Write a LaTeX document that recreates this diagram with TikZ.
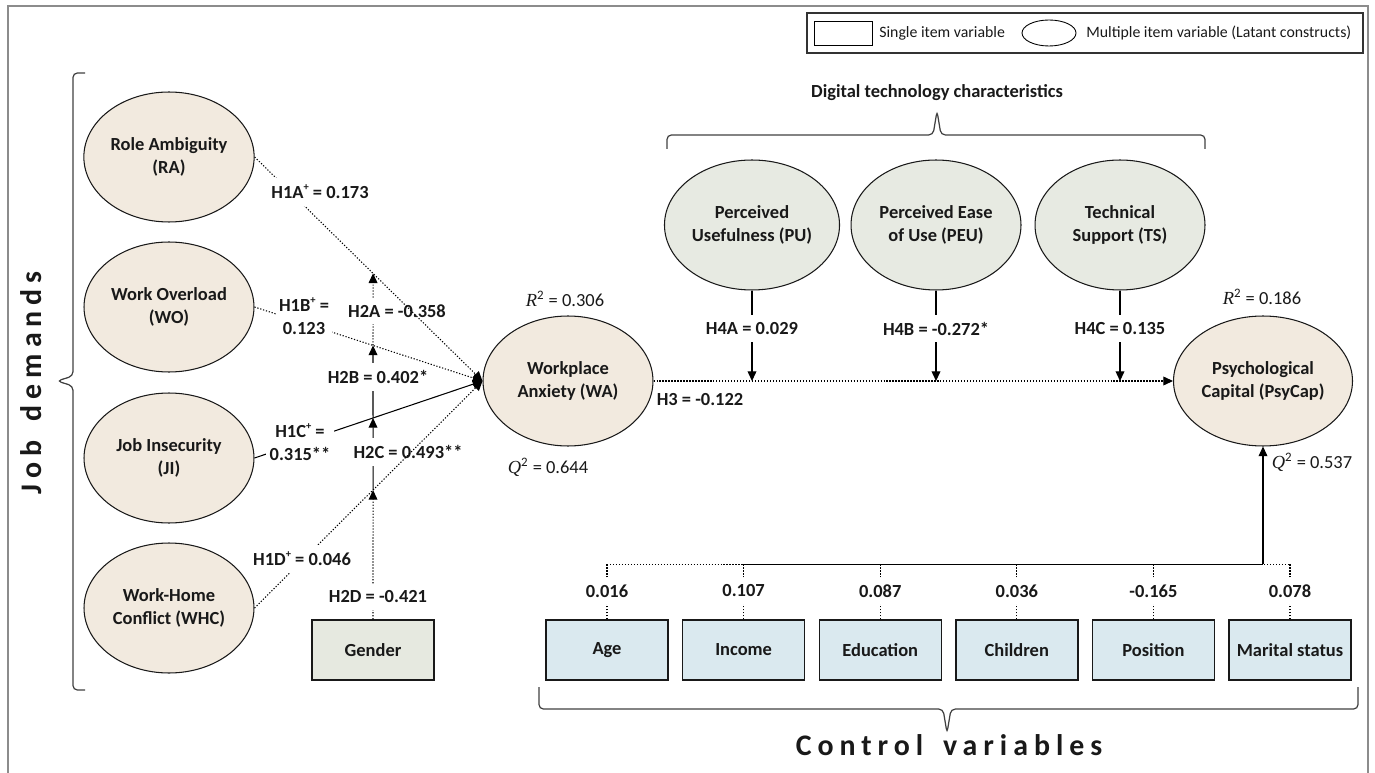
\documentclass[tikz,border=0pt]{standalone}
\usepackage{fontspec}
\setmainfont{Carlito}
\newfontfamily\serifR{Liberation Serif}
\newfontfamily\spacedfont[LetterSpace=20]{Carlito}
\usetikzlibrary{shapes.geometric,arrows.meta}
\definecolor{beige}{HTML}{F2EADF}
\definecolor{sage}{HTML}{E7EAE2}
\definecolor{ctrlblue}{HTML}{DAE9EF}
\definecolor{gendergray}{HTML}{E6E9E0}
\newcommand{\labfont}{\fontsize{10.5}{13}\selectfont\bfseries}
\newcommand{\legfont}{\fontsize{9}{11}\selectfont}
\newcommand{\statfont}{\fontsize{10.5}{13}\selectfont}
\newcommand{\bigspaced}{\spacedfont\bfseries\fontsize{17}{20}\selectfont}
\newcommand{\Rsq}{{\serifR\itshape R}\textsuperscript{2}}
\newcommand{\Qsq}{{\serifR\itshape Q}\textsuperscript{2}}
\newcommand{\plus}{\raisebox{0.9ex}{\fontsize{6}{6}\selectfont+}}
\begin{document}
\begin{tikzpicture}[x=0.02cm, y=-0.02cm, every node/.style={font=\labfont, text=black!90},
  latent/.style={ellipse, draw=black!90, line width=0.6pt, minimum width=3.4cm, minimum height=2.6cm, align=center, inner sep=1pt},
  demand/.style={latent, fill=beige},
  tech/.style={latent, fill=sage},
  single/.style={rectangle, draw=black!90, line width=0.8pt, minimum width=2.44cm, minimum height=1.2cm},
  coef/.style={fill=white, inner xsep=2pt, inner ysep=4pt, align=center},
  dots/.style={line width=0.6pt, dash pattern=on 0.7pt off 1pt},
  tip/.style={-{Triangle[length=5.5pt,width=5pt]}},
  brace/.style={draw=black!75, line width=0.7pt, rounded corners=2.5pt}]
\useasboundingbox (0,0) rectangle (1375,773);
% frame and legend
\draw[gray!90, line width=1.1pt] (8,773) -- (8,6) -- (1368,6) -- (1368,773);
\draw[line width=0.6pt, draw=black!80] (807,13) rectangle (1363,53);
\node[draw, line width=0.5pt, minimum width=1.16cm, minimum height=0.48cm, inner sep=0] (legsq) at (843,33) {};
\node[font=\legfont, anchor=west, inner sep=0] (legsqt) at (879,33) {Single item variable};
\node[ellipse, draw, line width=0.5pt, minimum width=1.08cm, minimum height=0.52cm, inner sep=0] (legel) at (1049,33) {};
\node[font=\legfont, anchor=west, inner sep=0] (legelt) at (1086,33) {Multiple item variable (Latant constructs)};
% constructs
\node[demand] (ra) at (169,157) {Role Ambiguity\\(RA)};
\node[demand] (wo) at (169,307) {Work Overload\\(WO)};
\node[demand] (ji) at (169,458) {Job Insecurity\\(JI)};
\node[demand] (whc) at (169,608) {Work-Home\\Conflict (WHC)};
\node[demand] (wa) at (568,381) {Workplace\\Anxiety (WA)};
\node[demand] (psy) at (1263,381) {Psychological\\Capital (PsyCap)};
\node[tech] (pu) at (752,225) {Perceived\\Usefulness (PU)};
\node[tech] (peu) at (936,225) {Perceived Ease\\of Use (PEU)};
\node[tech] (ts) at (1120,225) {Technical\\Support (TS)};
\node[single, fill=gendergray] (gen) at (373,650) {Gender};
\coordinate (wain) at (wa.west);
\coordinate (gup) at (373,100);
% gender moderation
\coordinate (xa) at (intersection of ra.east--wain and gen.north--gup);
\coordinate (xb) at (intersection of wo.east--wain and gen.north--gup);
\coordinate (xc) at (intersection of ji.east--wain and gen.north--gup);
\coordinate (xd) at (intersection of whc.east--wain and gen.north--gup);
\draw[dots,tip] (gen.north) -- (xd);
\draw[line width=0.6pt,tip] (xd) -- (xc);
\draw[line width=0.6pt,tip] (xc) -- (xb);
\draw[dots,tip] (xb) -- (xa);
\node[coef] (h2a) at (397,311) {H2A = -0.358};
\node[coef] (h2b) at (378,377) {H2B = 0.402*};
\node[coef] (h2c) at (408,452) {H2C = 0.493**};
\node[coef] (h2d) at (378,597) {H2D = -0.421};
% job demands paths
\draw[dots,tip] (ra.east) -- (wain);
\draw[dots,tip] (wo.east) -- (wain);
\draw[line width=0.6pt,tip] (ji.east) -- (wain);
\draw[dots,tip] (whc.east) -- (wain);
\node[coef] (h1a) at (320,192) {H1A\plus{} = 0.173};
\node[coef] (h1b) at (304,316) {H1B\plus{} =\\0.123};
\node[coef] (h1c) at (300,442) {H1C\plus{} =\\0.315**};
\node[coef] (h1d) at (302,559) {H1D\plus{} = 0.046};
% anxiety to psycap, moderated by technology
\draw[dots,tip] (wa.east) -- (psy.west);
\node (h3) at (700,400) {H3 = -0.122};
\foreach \t/\h in {pu/H4A = 0.029, peu/H4B = -0.272*, ts/H4C = 0.135} {
  \draw[line width=0.6pt,tip] (\t.south) -- (\t.south |- wa.east);
  \node[coef] (\t-coef) at ([yshift=-38*0.02cm]\t.south) {\h};
}
% control variables
\foreach \n/\lbl/\val [count=\i from 0] in {age/Age/0.016, inc/Income/0.107, edu/Education/0.087, chi/Children/0.036, posn/Position/-0.165, mar/Marital status/0.078} {
  \node[single, fill=ctrlblue] (\n) at ({607+136.6*\i},650) {\lbl};
  \draw[dots] (\n.north) -- ++(0,-55) coordinate (\n-top);
  \node[coef] (\n-val) at ({607+136.6*\i},591) {\val};
}
\draw[dots] (age-top) -- (mar-top);
\draw[line width=0.6pt] (inc-top) -- (inc-top -| psy.south);
\draw[line width=0.6pt,tip] (inc-top -| psy.south) -- (psy.south);
% braces and group titles
\draw[brace] (85,73) -- (73,73) -- (73,376) -- (57,381) -- (73,386) -- (73,690) -- (85,690);
\draw[brace] (667,149) -- (667,135) -- (933,135) -- (937,111) -- (941,135) -- (1205,135) -- (1205,149);
\draw[brace] (539,687) -- (539,709) -- (943,709) -- (947,733) -- (951,709) -- (1358,709) -- (1358,687);
\node[rotate=90, font=\bigspaced] (jd) at (31,383) {Job\hspace{4pt} demands};
\node (dtc) at (937,93) {Digital technology characteristics};
\node[font=\bigspaced] (cv) at (949,745) {Control\hspace{4pt} variables};
% fit statistics
\node[font=\statfont] (war2) at (565,299) {\Rsq{} = 0.306};
\node[font=\statfont] (waq2) at (548,467) {\Qsq{} = 0.644};
\node[font=\statfont] (psyr2) at (1262,297) {\Rsq{} = 0.186};
\node[font=\statfont] (psyq2) at (1312,462) {\Qsq{} = 0.537};
\end{tikzpicture}
\end{document}
